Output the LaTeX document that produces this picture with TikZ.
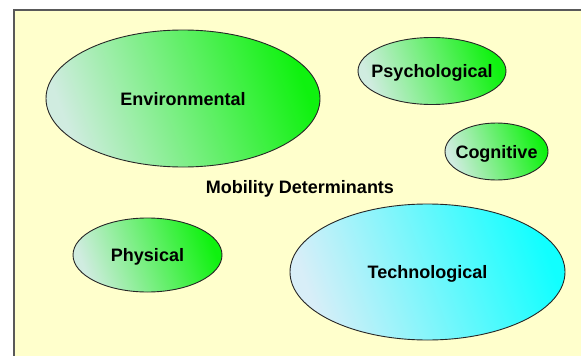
\documentclass[tikz,border=0pt]{standalone}
\usepackage{fontspec}
\setmainfont{Liberation Sans}
\usetikzlibrary{shapes.geometric}

\definecolor{paper}{HTML}{FFFFCC}
\definecolor{palegreen}{HTML}{D0ECE0}
\definecolor{brightgreen}{HTML}{0FF20F}
\definecolor{palecyan}{HTML}{D8EEF8}
\definecolor{brightcyan}{HTML}{11FFFF}

\tikzset{
  label font/.style={font=\fontsize{18}{21}\selectfont\bfseries, text depth=0pt},
  blob/.style={ellipse, draw=black!85, line width=0.9pt, inner xsep=-20pt, inner ysep=0pt, label font},
  greenblob/.style={blob, left color=palegreen, right color=brightgreen, shading angle=110},
  cyanblob/.style={blob, left color=palecyan, right color=brightcyan, shading angle=110}
}

\begin{document}
\begin{tikzpicture}[x=1pt, y=-1pt]
    \useasboundingbox (0,0) rectangle (581,356);
    \clip (0,0) rectangle (581,356);
    % yellow panel, only its top and left edge show
    \draw[fill=paper, draw=black!65, line width=1.2pt] (14,10) rectangle (600,380);

    \node[greenblob, minimum width=274pt, minimum height=137pt] (env) at (183,98.5) {Environmental};
    \node[greenblob, minimum width=148pt, minimum height=67pt] (psy) at (432,71) {Psychological};
    \node[greenblob, minimum width=103pt, minimum height=57pt] (cog) at (496.5,151.5) {Cognitive};
    \node[greenblob, minimum width=149pt, minimum height=74pt] (phys) at (147.5,255) {Physical};
    \node[cyanblob, minimum width=275pt, minimum height=136pt] (tech) at (427.5,272) {Technological};

    \node[label font] (title) at (300,187) {Mobility Determinants};
\end{tikzpicture}
\end{document}
